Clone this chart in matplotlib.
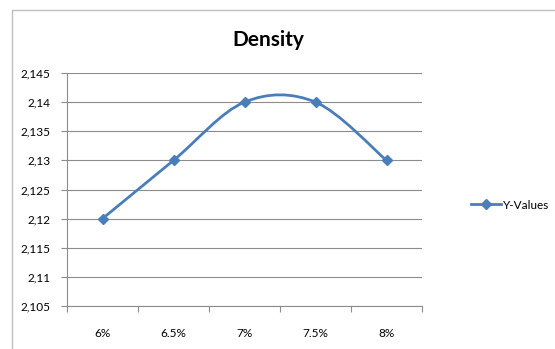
import matplotlib
matplotlib.use('Agg')

import numpy as np
import matplotlib.pyplot as plt
from matplotlib.patches import Rectangle
from matplotlib.path import Path
from matplotlib.patches import PathPatch
from matplotlib.lines import Line2D


categories = ['6%', '6.5%', '7%', '7.5%', '8%']
y_values = [2.12, 2.13, 2.14, 2.14, 2.13]
y_ticks = [2.105, 2.11, 2.115, 2.12, 2.125, 2.13, 2.135, 2.14, 2.145]

BLUE = '#4A7EBB'
GRID = '#8C8C8C'

plt.rcParams['font.family'] = ['Lato', 'DejaVu Sans']

fig = plt.figure(figsize=(5.55, 3.49), dpi=100)
W, H = 555, 349

# outer chart border (clipped by image at right and bottom, like the screenshot)
fig.patches.append(Rectangle((12 / W, -0.05), 1.2, 1 - 10 / H + 0.05,
                             transform=fig.transFigure, fill=False,
                             edgecolor='#BFBFBF', linewidth=1.0))

ax = fig.add_axes([67 / W, 1 - 306 / H, (422 - 67) / W, (306 - 73) / H])

x = np.arange(len(categories))

# Excel-style smoothed line: cubic bezier segments with 1/6 tangent rule
verts = [(x[0], y_values[0])]
codes = [Path.MOVETO]
n = len(x)
for i in range(n - 1):
    p0 = np.array([x[max(i - 1, 0)], y_values[max(i - 1, 0)]])
    p1 = np.array([x[i], y_values[i]])
    p2 = np.array([x[i + 1], y_values[i + 1]])
    p3 = np.array([x[min(i + 2, n - 1)], y_values[min(i + 2, n - 1)]])
    c1 = p1 + (p2 - p0) / 6
    c2 = p2 - (p3 - p1) / 6
    verts += [tuple(c1), tuple(c2), tuple(p2)]
    codes += [Path.CURVE4] * 3
ax.add_patch(PathPatch(Path(verts, codes), fill=False, edgecolor=BLUE,
                       linewidth=2.0, capstyle='round', zorder=3))
ax.plot(x, y_values, linestyle='none', marker='D', markersize=5.5,
        color=BLUE, zorder=4)

ax.set_xlim(-0.5, len(categories) - 0.5)
ax.set_ylim(2.105, 2.145)
ax.set_yticks(y_ticks)
ax.set_yticklabels(['{:g}'.format(v).replace('.', ',') for v in y_ticks])
ax.yaxis.grid(True, color=GRID, linewidth=0.8)
ax.set_axisbelow(True)

ax.set_xticks(np.arange(len(categories) + 1) - 0.5)
ax.set_xticklabels([])
ax.set_xticks(x, minor=True)
ax.set_xticklabels(categories, minor=True)
ax.tick_params(axis='x', which='major', direction='out', length=4, color=GRID)
ax.tick_params(axis='x', which='minor', length=0, pad=16, labelsize=8.5)
ax.tick_params(axis='y', direction='out', length=4, color=GRID, pad=8,
               labelsize=8.5)

for side in ['top', 'right']:
    ax.spines[side].set_visible(False)
for side in ['left', 'bottom']:
    ax.spines[side].set_color(GRID)
    ax.spines[side].set_linewidth(0.8)

fig.text(268 / W, 1 - 40 / H, 'Density', ha='center', va='center',
         fontsize=15, fontweight='bold')

handle = Line2D([], [], color=BLUE, linewidth=2.0, marker='D', markersize=5)
fig.legend([handle], ['Y-Values'], loc='center left',
           bbox_to_anchor=(460 / W, 1 - 205 / H), frameon=False,
           fontsize=8.5, handlelength=2.6, handletextpad=0.1)

fig.savefig('out.png', dpi=100)
